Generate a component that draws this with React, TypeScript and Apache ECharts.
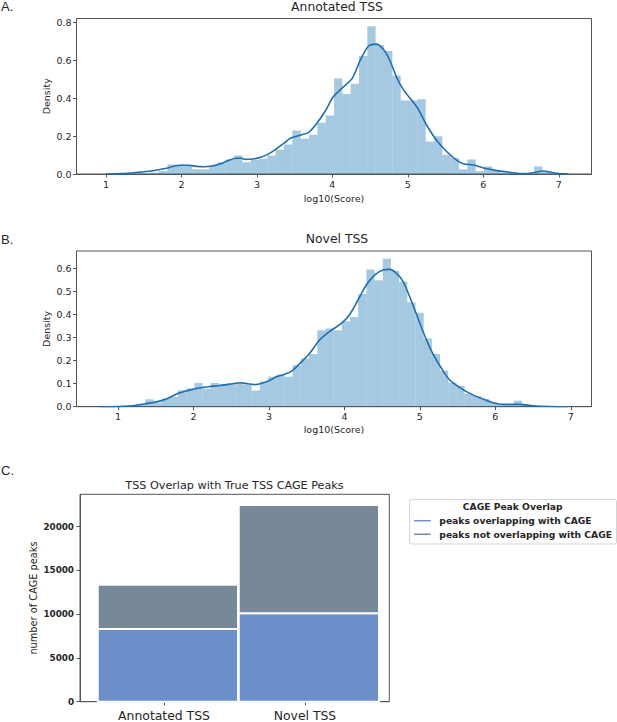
import * as echarts from "echarts"
import { useEffect, useRef } from "react"

const FONT = "DejaVu Sans"
const TEXT = "#262626"
const FRAME = "#555555"
const BAR_BLUE = "#1f77b4"
const LINE_BLUE = "#1f6fae"

const annotatedBinWidth = 0.1104
const annotatedBinLeft = [
  1.041, 1.151, 1.262, 1.372, 1.483, 1.593, 1.703, 1.814, 1.924, 2.035, 2.145,
  2.255, 2.366, 2.476, 2.587, 2.697, 2.807, 2.918, 3.028, 3.139, 3.249, 3.359,
  3.47, 3.58, 3.691, 3.801, 3.911, 4.022, 4.132, 4.243, 4.353, 4.463, 4.574,
  4.684, 4.795, 4.905, 5.015, 5.126, 5.236, 5.347, 5.457, 5.567, 5.678, 5.788,
  5.899, 6.009, 6.119, 6.23, 6.34, 6.451, 6.561, 6.671, 6.782, 6.892, 7.003,
]
const annotatedDensity = [
  0.001, 0.001, 0.002, 0.003, 0.005, 0.008, 0.016, 0.05, 0.05, 0.042, 0.025,
  0.025, 0.042, 0.062, 0.077, 0.098, 0.062, 0.075, 0.081, 0.098, 0.128, 0.156,
  0.23, 0.186, 0.207, 0.27, 0.309, 0.503, 0.422, 0.476, 0.622, 0.779, 0.68,
  0.648, 0.52, 0.388, 0.388, 0.394, 0.172, 0.199, 0.102, 0.084, 0.025, 0.077,
  0.014, 0.039, 0.019, 0.007, 0.01, 0.002, 0.002, 0.039, 0.015, 0.002, 0.001,
]
const annotatedKdeX = [
  1.0, 1.2, 1.4, 1.6, 1.8, 1.9, 2.0, 2.1, 2.2, 2.3, 2.4, 2.5, 2.6, 2.7, 2.78,
  2.85, 2.95, 3.05, 3.15, 3.25, 3.35, 3.45, 3.57, 3.69, 3.79, 3.91, 4.01, 4.12,
  4.26, 4.37, 4.48, 4.58, 4.68, 4.76, 4.85, 4.94, 5.12, 5.25, 5.38, 5.51, 5.65,
  5.735, 5.87, 6.0, 6.18, 6.35, 6.53, 6.66, 6.79, 6.93, 7.06, 7.13,
]
const annotatedKdeY = [
  0.0, 0.002, 0.008, 0.016, 0.03, 0.041, 0.046, 0.046, 0.04, 0.038, 0.042,
  0.052, 0.067, 0.082, 0.084, 0.077, 0.079, 0.088, 0.105, 0.13, 0.16, 0.19,
  0.204, 0.221, 0.265, 0.335, 0.406, 0.45, 0.503, 0.6, 0.675, 0.685, 0.655, 0.6,
  0.511, 0.445, 0.353, 0.257, 0.178, 0.12, 0.072, 0.054, 0.047, 0.032, 0.018,
  0.009, 0.002, 0.007, 0.016, 0.007, 0.001, 0.0,
]

const novelBinWidth = 0.1085
const novelBinLeft = [
  0.71, 0.819, 0.927, 1.036, 1.144, 1.253, 1.361, 1.47, 1.578, 1.687, 1.795,
  1.904, 2.012, 2.121, 2.229, 2.338, 2.446, 2.555, 2.663, 2.772, 2.88, 2.989,
  3.097, 3.206, 3.314, 3.423, 3.531, 3.64, 3.748, 3.857, 3.965, 4.074, 4.182,
  4.291, 4.399, 4.508, 4.616, 4.725, 4.833, 4.942, 5.05, 5.159, 5.267, 5.376,
  5.484, 5.593, 5.701, 5.81, 5.918, 6.027, 6.135, 6.244, 6.352, 6.461, 6.569,
  6.678, 6.786, 6.895,
]
const novelDensity = [
  0.001, 0.001, 0.002, 0.003, 0.006, 0.013, 0.032, 0.017, 0.036, 0.043, 0.071,
  0.08, 0.103, 0.078, 0.103, 0.097, 0.103, 0.105, 0.097, 0.07, 0.11, 0.13, 0.14,
  0.13, 0.18, 0.21, 0.229, 0.332, 0.34, 0.332, 0.372, 0.39, 0.49, 0.597, 0.55,
  0.643, 0.59, 0.543, 0.454, 0.409, 0.297, 0.229, 0.157, 0.104, 0.09, 0.055,
  0.046, 0.033, 0.019, 0.01, 0.007, 0.026, 0.007, 0.003, 0.002, 0.001, 0.001,
  0.001,
]
const novelKdeX = [
  0.75, 1.0, 1.2, 1.35, 1.5, 1.65, 1.8, 1.95, 2.05, 2.2, 2.35, 2.5, 2.62, 2.72,
  2.82, 2.92, 3.0, 3.1, 3.2, 3.3, 3.41, 3.54, 3.67, 3.81, 3.96, 4.07, 4.18,
  4.29, 4.4, 4.51, 4.6, 4.69, 4.78, 4.865, 4.95, 5.06, 5.17, 5.285, 5.395, 5.53,
  5.66, 5.84, 6.01, 6.17, 6.32, 6.5, 6.72, 6.96,
]
const novelKdeY = [
  0.0, 0.001, 0.004, 0.012, 0.02, 0.035, 0.058, 0.072, 0.08, 0.087, 0.092,
  0.099, 0.104, 0.1, 0.096, 0.103, 0.113, 0.13, 0.14, 0.155, 0.188, 0.232, 0.29,
  0.329, 0.362, 0.401, 0.464, 0.529, 0.572, 0.594, 0.597, 0.58, 0.543, 0.478,
  0.406, 0.312, 0.232, 0.167, 0.116, 0.083, 0.058, 0.033, 0.014, 0.01, 0.01,
  0.004, 0.001, 0.0,
]

const scoreTicks = [1, 2, 3, 4, 5, 6, 7]
const annotatedDensityTicks = [0, 0.2, 0.4, 0.6, 0.8]
const novelDensityTicks = [0, 0.1, 0.2, 0.3, 0.4, 0.5, 0.6]

const overlapCategories = ["Annotated TSS", "Novel TSS"]
const overlapTicks = [0, 5000, 10000, 15000, 20000]
const peaksOverlapping = [8300, 10100]
const peaksNotOverlapping = [5050, 12380]
const overlapLegendTitle = "CAGE Peak Overlap"
const overlapLegendLabels = [
  "peaks overlapping with CAGE",
  "peaks not overlapping with CAGE",
]
const overlapColors = ["#6b8fcb", "#778899"]

function zip(a: number[], b: number[]) {
  return a.map((v, i) => [v, b[i]])
}

function histogramSeries(
  xAxisIndex: number,
  left: number[],
  density: number[],
  binWidth: number,
) {
  return {
    type: "custom",
    xAxisIndex,
    yAxisIndex: xAxisIndex,
    clip: true,
    silent: true,
    data: zip(left, density),
    encode: { x: 0, y: 1 },
    renderItem: (_: unknown, api: any) => {
      const a = api.coord([api.value(0), api.value(1)])
      const b = api.coord([api.value(0) + binWidth, 0])
      return {
        type: "rect",
        shape: { x: a[0], y: a[1], width: b[0] - a[0], height: b[1] - a[1] },
        style: { fill: BAR_BLUE, opacity: 0.4 },
      }
    },
  }
}

function kdeSeries(xAxisIndex: number, x: number[], y: number[]) {
  return {
    type: "line",
    xAxisIndex,
    yAxisIndex: xAxisIndex,
    data: zip(x, y),
    smooth: 0.3,
    showSymbol: false,
    silent: true,
    z: 5,
    lineStyle: { color: LINE_BLUE, width: 1.6 },
  }
}

function scoreAxis(gridIndex: number, min: number, max: number, nameGap: number) {
  return {
    type: "value",
    gridIndex,
    min,
    max,
    name: "log10(Score)",
    nameLocation: "middle",
    nameGap,
    nameMoveOverlap: false,
    nameTextStyle: { fontFamily: FONT, fontSize: 9.5, color: TEXT },
    axisLine: { onZero: false, lineStyle: { color: FRAME, width: 1 } },
    axisTick: {
      length: 3.5,
      lineStyle: { color: FRAME },
      customValues: scoreTicks,
    },
    axisLabel: {
      fontFamily: FONT,
      fontSize: 9.5,
      color: TEXT,
      margin: 5,
      customValues: scoreTicks,
      formatter: (v: number) => `${v}`,
    },
    splitLine: { show: false },
  }
}

function densityAxis(gridIndex: number, max: number, ticks: number[]) {
  return {
    type: "value",
    gridIndex,
    min: 0,
    max,
    name: "Density",
    nameLocation: "middle",
    nameGap: 25,
    nameMoveOverlap: false,
    nameTextStyle: { fontFamily: FONT, fontSize: 9.5, color: TEXT },
    axisLine: { onZero: false, lineStyle: { color: FRAME, width: 1 } },
    axisTick: {
      length: 3.5,
      lineStyle: { color: FRAME },
      customValues: ticks,
    },
    axisLabel: {
      fontFamily: FONT,
      fontSize: 9.5,
      color: TEXT,
      margin: 5,
      customValues: ticks,
      formatter: (v: number) => v.toFixed(1),
    },
    splitLine: { show: false },
  }
}

function overlapSeries(values: number[], base: number[], color: string) {
  return {
    type: "custom",
    xAxisIndex: 2,
    yAxisIndex: 2,
    silent: true,
    data: values.map((v, i) => [i, base[i], base[i] + v]),
    encode: { x: 0, y: [1, 2] },
    renderItem: (_: unknown, api: any) => {
      // bars sit a little right of their ticks, as in the figure
      const a = api.coord([api.value(0) - 0.47, api.value(2)])
      const b = api.coord([api.value(0) + 0.525, api.value(1)])
      return {
        type: "rect",
        shape: { x: a[0], y: a[1], width: b[0] - a[0], height: b[1] - a[1] },
        style: { fill: color, stroke: "#ffffff", lineWidth: 2 },
      }
    },
  }
}

function panelTitle(text: string, left: number, top: number, fontSize: number) {
  return {
    text,
    left,
    top,
    padding: 0,
    textAlign: "center",
    textVerticalAlign: "middle",
    textStyle: {
      fontFamily: FONT,
      fontSize,
      fontWeight: "normal",
      color: TEXT,
    },
  }
}

function panelLetter(text: string, y: number) {
  return {
    type: "text",
    x: 1,
    y,
    style: {
      text,
      fontFamily: "Liberation Sans",
      fontSize: 13,
      fill: TEXT,
      verticalAlign: "middle",
    },
  }
}

function buildOption() {
  return {
    animation: false,
    backgroundColor: "#ffffff",
    title: [
      panelTitle("Annotated TSS", 337, 6, 12.4),
      panelTitle("Novel TSS", 337, 238, 12.4),
      panelTitle("TSS Overlap with True TSS CAGE Peaks", 234.5, 485, 11.2),
    ],
    grid: [
      { left: 76.5, top: 18.5, width: 515, height: 155.5, show: true, borderColor: FRAME, backgroundColor: "transparent" },
      { left: 76.5, top: 251, width: 515, height: 155.7, show: true, borderColor: FRAME, backgroundColor: "transparent" },
      { left: 80, top: 494.3, width: 309.3, height: 207.4, show: true, borderColor: FRAME, backgroundColor: "transparent" },
    ],
    xAxis: [
      scoreAxis(0, 0.61, 7.433, 19),
      scoreAxis(1, 0.45, 7.274, 17.5),
      {
        type: "value",
        gridIndex: 2,
        min: -0.596,
        max: 1.598,
        axisLine: { onZero: false, lineStyle: { color: FRAME } },
        axisTick: {
          length: 3.5,
          lineStyle: { color: FRAME },
          customValues: [0, 1],
        },
        axisLabel: {
          fontFamily: FONT,
          fontSize: 12.4,
          color: TEXT,
          margin: 8,
          customValues: [0, 1],
          formatter: (v: number) => overlapCategories[v] ?? "",
        },
        splitLine: { show: false },
      },
    ],
    yAxis: [
      densityAxis(0, 0.82, annotatedDensityTicks),
      densityAxis(1, 0.677, novelDensityTicks),
      {
        type: "value",
        gridIndex: 2,
        min: 0,
        max: 23695,
        name: "number of CAGE peaks",
        nameLocation: "middle",
        nameGap: 42,
        nameMoveOverlap: false,
        nameTextStyle: { fontFamily: FONT, fontSize: 9.8, color: TEXT },
        axisLine: { onZero: false, lineStyle: { color: FRAME } },
        axisTick: {
          length: 3.5,
          lineStyle: { color: FRAME },
          customValues: overlapTicks,
        },
        axisLabel: {
          fontFamily: FONT,
          fontSize: 8.8,
          fontWeight: "bold",
          color: TEXT,
          margin: 6,
          customValues: overlapTicks,
          formatter: (v: number) => `${v}`,
        },
        splitLine: { show: false },
      },
    ],
    series: [
      histogramSeries(0, annotatedBinLeft, annotatedDensity, annotatedBinWidth),
      kdeSeries(0, annotatedKdeX, annotatedKdeY),
      histogramSeries(1, novelBinLeft, novelDensity, novelBinWidth),
      kdeSeries(1, novelKdeX, novelKdeY),
      overlapSeries(peaksOverlapping, [0, 0], overlapColors[0]),
      overlapSeries(peaksNotOverlapping, peaksOverlapping, overlapColors[1]),
    ],
    graphic: [
      panelLetter("A.", 6),
      panelLetter("B.", 239),
      panelLetter("C.", 470),
      // legend box for panel C
      {
        type: "rect",
        shape: { x: 409.5, y: 499.5, width: 207, height: 44.5, r: 2 },
        style: { fill: "#ffffff", stroke: "#d5d5d5", lineWidth: 1 },
      },
      {
        type: "text",
        x: 512.7,
        y: 506.7,
        style: {
          text: overlapLegendTitle,
          fontFamily: FONT,
          fontSize: 9.2,
          fontWeight: "bold",
          fill: TEXT,
          align: "center",
          verticalAlign: "middle",
        },
      },
      ...overlapLegendLabels.flatMap((label, i) => {
        const y = 520.7 + i * 13.6
        return [
          {
            type: "line",
            shape: { x1: 414, y1: y, x2: 430.7, y2: y },
            style: { stroke: overlapColors[i], lineWidth: 1.5 },
          },
          {
            type: "text",
            x: 439.3,
            y,
            style: {
              text: label,
              fontFamily: FONT,
              fontSize: 9.2,
              fontWeight: "bold",
              fill: TEXT,
              verticalAlign: "middle",
            },
          },
        ]
      }),
    ],
  }
}

export default function App(): React.ReactElement {
  const containerRef = useRef<HTMLDivElement>(null)

  useEffect(() => {
    const node = containerRef.current
    if (!node) return
    const chart = echarts.init(node, undefined, { renderer: "svg" })
    chart.setOption(buildOption() as any)
    return () => chart.dispose()
  }, [])

  return (
    <div
      ref={containerRef}
      style={{ position: "absolute", left: 0, top: 0, width: 617, height: 722 }}
    />
  )
}
